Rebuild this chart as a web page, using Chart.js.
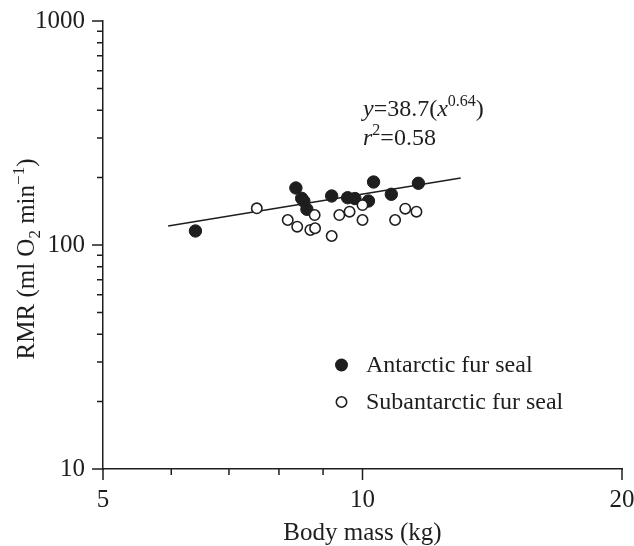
<!DOCTYPE html>
<html>
<head>
<meta charset="utf-8">
<script src="https://cdn.jsdelivr.net/npm/chart.js@4"></script>
<style>
  html, body { margin: 0; padding: 0; background: #fff; }
  canvas { display: block; }
</style>
</head>
<body>
<canvas id="rmr-chart" width="634" height="546"></canvas>
<script>
// axis ticks (log scales)
const xTickValues = [5, 6, 7, 8, 9, 10, 20];
const xTickLabels = [5, 10, 20];
const yTickValues = [10, 20, 30, 40, 50, 60, 70, 80, 90, 100, 200, 300, 400, 500, 600, 700, 800, 900, 1000];
const yTickLabels = [10, 100, 1000];

// Antarctic fur seal (filled)
const antarcticMass = [6.40, 8.37, 8.50, 8.55, 8.62, 9.21, 9.61, 9.80, 10.16, 10.30, 10.80, 11.61];
const antarcticRmr = [115.5, 179.7, 161.6, 157.0, 144.3, 165.5, 162.6, 161.2, 157.2, 191.1, 168.4, 188.6];

// Subantarctic fur seal (open)
const subantarcticMass = [7.54, 8.19, 8.40, 8.70, 8.81, 8.80, 9.21, 9.40, 9.66, 10.00, 10.00, 10.91, 11.21, 11.55];
const subantarcticRmr = [145.8, 129.3, 120.7, 116.7, 118.8, 136.1, 109.7, 136.1, 140.8, 129.3, 150.8, 129.3, 145.2, 140.8];

// fitted line y = 38.7 x^0.64, ends
const fitMass = [5.95, 13.0];
const fitRmr = [121.5, 199];

const ink = '#1e1e1e';
const serif = "'Liberation Serif', 'DejaVu Serif', serif";
const textSize = 24;
const supSize = 16;

function toPoints(xs, ys) {
    return xs.map((x, i) => ({ x: x, y: ys[i] }));
}

// draw a run of text pieces: [text, style, size, yShift]
function drawRuns(ctx, runs, x, y) {
    let cx = x;
    runs.forEach(([text, style, size, shift]) => {
        ctx.font = `${style} ${size}px ${serif}`;
        ctx.fillText(text, cx, y + shift);
        cx += ctx.measureText(text).width;
    });
    return cx - x;
}
function runsWidth(ctx, runs) {
    let w = 0;
    runs.forEach(([text, style, size]) => {
        ctx.font = `${style} ${size}px ${serif}`;
        w += ctx.measureText(text).width;
    });
    return w;
}

const decorPlugin = {
    id: 'decor',
    afterDraw(chart) {
        const { ctx, chartArea, scales: { x, y } } = chart;
        ctx.save();

        // tick marks, major longer than minor
        ctx.strokeStyle = ink;
        ctx.lineWidth = 1.5;
        ctx.beginPath();
        xTickValues.forEach(v => {
            const px = x.getPixelForValue(v);
            const len = xTickLabels.includes(v) ? 11 : 6;
            ctx.moveTo(px, chartArea.bottom);
            ctx.lineTo(px, chartArea.bottom + len);
        });
        yTickValues.forEach(v => {
            const py = y.getPixelForValue(v);
            const len = yTickLabels.includes(v) ? 11 : 6;
            ctx.moveTo(chartArea.left, py);
            ctx.lineTo(chartArea.left - len, py);
        });
        ctx.stroke();

        ctx.fillStyle = ink;
        ctx.textBaseline = 'alphabetic';
        ctx.textAlign = 'left';

        // x title
        ctx.font = `25px ${serif}`;
        ctx.textAlign = 'center';
        ctx.fillText('Body mass (kg)', (chartArea.left + chartArea.right) / 2, 540);
        ctx.textAlign = 'left';

        // y title with sub/superscript
        const yRuns = [
            ['RMR (ml O', 'normal', 25, 0],
            ['2', 'normal', 17, 6],
            [' min', 'normal', 25, 0],
            ['\u22121', 'normal', 17, -10],
            [')', 'normal', 25, 0]
        ];
        ctx.save();
        ctx.translate(34, 259);
        ctx.rotate(-Math.PI / 2);
        drawRuns(ctx, yRuns, -runsWidth(ctx, yRuns) / 2, 0);
        ctx.restore();

        // equation
        drawRuns(ctx, [
            ['y', 'italic', textSize, 0],
            ['=38.7(', 'normal', textSize, 0],
            ['x', 'italic', textSize, 0],
            ['0.64', 'normal', supSize, -10],
            [')', 'normal', textSize, 0]
        ], 363, 116);
        drawRuns(ctx, [
            ['r', 'italic', textSize, 0],
            ['2', 'normal', supSize, -10],
            ['=0.58', 'normal', textSize, 0]
        ], 363, 145);

        // legend
        const legend = [
            { label: 'Antarctic fur seal', filled: true, cy: 365 },
            { label: 'Subantarctic fur seal', filled: false, cy: 402 }
        ];
        legend.forEach(item => {
            ctx.beginPath();
            if (item.filled) {
                ctx.arc(341.5, item.cy, 6.5, 0, Math.PI * 2);
                ctx.fillStyle = ink;
                ctx.fill();
            } else {
                ctx.arc(341.5, item.cy, 5.2, 0, Math.PI * 2);
                ctx.lineWidth = 1.6;
                ctx.strokeStyle = ink;
                ctx.stroke();
            }
            ctx.fillStyle = ink;
            ctx.font = `${textSize}px ${serif}`;
            ctx.textBaseline = 'middle';
            ctx.fillText(item.label, 366, item.cy + 1);
        });

        ctx.restore();
    }
};

const tickFont = { family: serif, size: 25 };

new Chart(document.getElementById('rmr-chart'), {
    type: 'scatter',
    plugins: [decorPlugin],
    data: {
        datasets: [
            {
                label: 'Subantarctic fur seal',
                data: toPoints(subantarcticMass, subantarcticRmr),
                backgroundColor: '#fff',
                borderColor: ink,
                borderWidth: 1.6,
                pointRadius: 5.2,
                order: 0
            },
            {
                label: 'Antarctic fur seal',
                data: toPoints(antarcticMass, antarcticRmr),
                backgroundColor: ink,
                borderColor: ink,
                borderWidth: 1,
                pointRadius: 6.2,
                order: 1
            },
            {
                label: 'fit',
                type: 'line',
                data: toPoints(fitMass, fitRmr),
                borderColor: ink,
                borderWidth: 1.5,
                pointRadius: 0,
                fill: false,
                order: 2
            }
        ]
    },
    options: {
        responsive: false,
        animation: false,
        layout: { padding: { top: 21, right: 12, left: 0, bottom: 0 } },
        plugins: {
            legend: { display: false },
            tooltip: { enabled: false }
        },
        scales: {
            x: {
                type: 'logarithmic',
                min: 5,
                max: 20,
                afterFit: s => { s.height = 77; s.paddingLeft = 0; s.paddingRight = 0; },
                afterBuildTicks: s => { s.ticks = xTickValues.map(v => ({ value: v })); },
                grid: { display: false, drawTicks: false },
                border: { display: true, color: ink, width: 1.5 },
                ticks: {
                    autoSkip: false,
                    maxRotation: 0,
                    padding: 16,
                    color: ink,
                    font: tickFont,
                    callback: v => xTickLabels.includes(v) ? String(v) : ''
                }
            },
            y: {
                type: 'logarithmic',
                min: 10,
                max: 1000,
                afterFit: s => { s.width = 103; s.paddingTop = 0; s.paddingBottom = 0; },
                afterBuildTicks: s => { s.ticks = yTickValues.map(v => ({ value: v })); },
                grid: { display: false, drawTicks: false },
                border: { display: true, color: ink, width: 1.5 },
                ticks: {
                    autoSkip: false,
                    padding: 18,
                    color: ink,
                    font: tickFont,
                    callback: v => yTickLabels.includes(v) ? String(v) : ''
                }
            }
        }
    }
});
</script>
</body>
</html>
